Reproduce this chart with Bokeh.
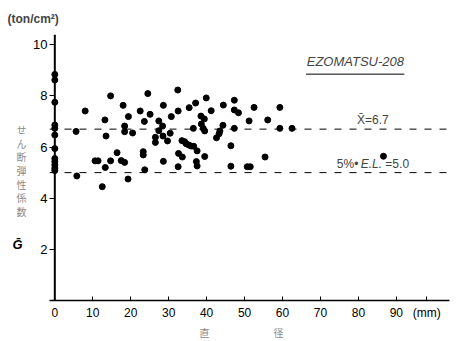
from bokeh.plotting import figure
from bokeh.models import Span, Label, FixedTicker, LinearAxis
from bokeh.embed import file_html
from bokeh.resources import INLINE

# data: diameter (mm) vs shear modulus G (ton/cm^2)
diam = [0, 0, 0, 0, 0, 0, 0, 0, 0, 0, 0, 0,
        5.6, 5.8, 8.0, 10.6, 11.4, 12.5, 13.2, 13.5, 13.3, 14.7, 14.7, 16.4,
        17.5, 18.4, 18.0, 19.4, 18.4, 18.4, 20.5, 19.3, 22.5, 24.5, 25.1, 23.6,
        23.3, 23.3, 23.7, 28.6, 32.4, 27.4, 28.4, 27.4, 26.5, 26.5, 28.5, 29.7,
        30.4, 30.7, 32.5, 28.6, 35.4, 37.1, 39.9, 41.2, 38.5, 39.4, 38.6, 39.1,
        39.5, 36.5, 33.5, 34.2, 34.6, 35.3, 35.9, 36.6, 37.5, 32.6, 33.6, 39.5,
        37.3, 37.5, 32.5, 44.4, 44.3, 43.5, 43.3, 42.6, 47.3, 47.3, 48.4, 47.3,
        46.4, 46.4, 51.2, 52.5, 50.7, 51.5, 59.3, 56.1, 59.3, 62.5, 55.4, 86.6]
gval = [8.84, 8.62, 7.75, 6.86, 6.73, 6.47, 5.94, 5.55, 5.43, 5.30, 5.17, 5.08,
        6.61, 4.87, 7.41, 5.46, 5.46, 4.45, 7.06, 6.43, 5.20, 8.00, 5.46, 5.78,
        5.47, 5.40, 7.63, 7.19, 6.82, 6.60, 6.55, 4.75, 7.41, 8.09, 7.28, 7.00,
        5.82, 5.69, 5.11, 7.63, 8.23, 7.02, 6.82, 6.64, 6.38, 6.18, 6.43, 6.24,
        6.54, 7.19, 7.41, 5.44, 7.54, 7.72, 7.92, 7.42, 7.21, 7.10, 6.90, 6.73,
        6.63, 6.73, 6.25, 6.21, 6.13, 6.08, 6.04, 6.03, 5.85, 5.75, 5.61, 5.63,
        5.43, 5.26, 5.23, 7.64, 6.85, 6.63, 6.52, 6.36, 7.83, 7.45, 7.34, 6.73,
        6.05, 5.25, 7.02, 7.55, 5.23, 5.23, 7.55, 7.06, 6.73, 6.73, 5.61, 5.64]

mean_g = 6.7
el5_g = 5.0
x_ticks = [0, 10, 20, 30, 40, 50, 60, 70, 80, 90, 98]
x_tick_labels = {98: "(mm)"}
y_ticks = [2, 4, 6, 8, 10]
title = "EZOMATSU-208"
unit_text = "(ton/cm\u00b2)"
y_chars = list("せん断弾性係数")
y_symbol = "G\u0304"
x_chars = ["直", "径"]

FONT = "Liberation Sans"
CJK = "Noto Sans CJK JP"

X0, X1, Y0, Y1 = -1.4, 104, 0, 10.4
FL, FB, FW, FH = 49, 299, 400, 266   # frame geometry in page pixels
PPX, PPY = FW / (X1 - X0), FH / (Y1 - Y0)

def dx(px):
    return round((px - FL) / PPX + X0, 3)

def dy(py):
    return round((FB - py) / PPY + Y0, 3)

p = figure(frame_width=FW, frame_height=FH, x_range=(X0, X1), y_range=(Y0, Y1),
           output_backend="svg", toolbar_location=None,
           min_border_left=FL, min_border_right=456 - FL - FW, min_border_top=341 - FB - FH,
           min_border_bottom=341 - FB)
p.outline_line_color = None
p.xgrid.visible = False
p.ygrid.visible = False
p.background_fill_color = "white"

# unit at top-left as the title
p.title.text = unit_text
p.title.align = "left"
p.title.offset = -42
p.title.standoff = 18
p.title.text_font = FONT
p.title.text_font_style = "bold"
p.title.text_font_size = "12px"

# axes
p.xaxis.ticker = FixedTicker(ticks=x_ticks)
p.xaxis.major_label_overrides = x_tick_labels
p.xaxis.major_tick_in = 4
p.xaxis.major_tick_out = 0
p.xaxis.minor_tick_line_color = None
p.xaxis.axis_line_width = 1.5
p.xaxis.axis_line_color = "black"
p.xaxis.major_label_text_font = FONT
p.xaxis.major_label_text_font_size = "12px"
p.xaxis.major_label_text_color = "black"
p.xaxis.major_label_standoff = 5

p.yaxis.ticker = FixedTicker(ticks=y_ticks)
p.yaxis.major_tick_in = 5
p.yaxis.major_tick_out = 0
p.yaxis.minor_tick_line_color = None
p.yaxis.axis_line_color = None
p.yaxis.major_label_text_font = FONT
p.yaxis.major_label_text_font_size = "13px"
p.yaxis.major_label_text_color = "black"
p.yaxis.major_label_standoff = 2

def text_axis(ticks, labels, font, size, color, style, standoff):
    ax = LinearAxis(ticker=FixedTicker(ticks=ticks),
                    major_label_overrides=dict(zip(ticks, labels)),
                    major_tick_in=0, major_tick_out=0, axis_line_color=None,
                    minor_tick_line_color=None, major_tick_line_color=None,
                    major_label_text_font=font, major_label_text_font_size=size,
                    major_label_text_color=color, major_label_text_font_style=style,
                    major_label_standoff=standoff)
    return ax

# vertical Japanese y-axis title (upright stacked characters) and the symbol
char_ticks = [dy(128 + i * 13.7) for i in range(len(y_chars))]
p.add_layout(text_axis(char_ticks, y_chars, CJK, "10px", "#8a8a8a", "normal", 4), "left")
p.add_layout(text_axis([dy(243)], [y_symbol], FONT, "13px", "black", "bold italic", -9), "left")

# x-axis title characters
p.add_layout(text_axis([dx(204), dx(278)], x_chars, CJK, "10px", "#8a8a8a", "normal", 2), "below")

# real y axis line at x = 0
p.add_layout(Span(location=0, dimension="height", line_color="black", line_width=2))

# reference lines
p.add_layout(Span(location=mean_g, dimension="width", line_color="black",
                  line_width=1, line_dash="7 8"))
p.add_layout(Span(location=el5_g, dimension="width", line_color="black",
                  line_width=1, line_dash="7 8"))

p.scatter(diam, gval, size=6, color="black")

# annotations inside the frame
p.add_layout(Label(x=79.2, y=9.05, text=title, text_font=FONT, text_font_style="italic",
                   text_font_size="13px", text_align="center", text_baseline="bottom"))
p.segment(x0=[66.2], y0=[8.85], x1=[92.1], y1=[8.85], line_color="black", line_width=1)

p.add_layout(Label(x=83.8, y=mean_g + 0.08, text="X\u0304=6.7", text_font=FONT,
                   text_font_size="12px", text_align="center", text_baseline="bottom"))
p.add_layout(Label(x=80.0, y=el5_g + 0.05, text="5%\u2022", text_font=FONT,
                   text_font_size="12px", text_align="right", text_baseline="bottom"))
p.add_layout(Label(x=80.6, y=el5_g + 0.05, text="E.L.", text_font=FONT,
                   text_font_style="italic",
                   text_font_size="12px", text_align="left", text_baseline="bottom"))
p.add_layout(Label(x=87.1, y=el5_g + 0.05, text="=5.0", text_font=FONT,
                   text_font_size="12px", text_align="left", text_baseline="bottom"))

open("out.html", "w").write(file_html(p, INLINE))
